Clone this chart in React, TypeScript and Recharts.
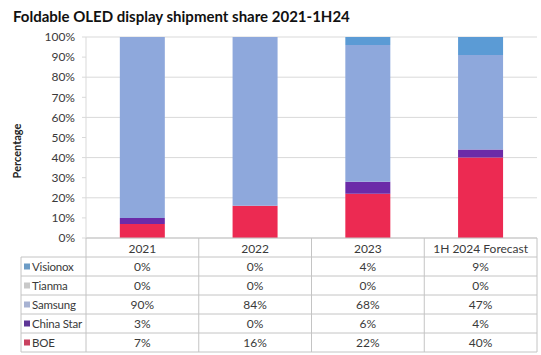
import React from 'react';
import { BarChart, Bar, XAxis, YAxis, CartesianGrid, Customized } from 'recharts';

const categories = ['2021', '2022', '2023', '1H 2024 Forecast'];
const boe = [7, 16, 22, 40];
const chinaStar = [3, 0, 6, 4];
const samsung = [90, 84, 68, 47];
const tianma = [0, 0, 0, 0];
const visionox = [0, 0, 4, 9];
const yTicks = [0, 10, 20, 30, 40, 50, 60, 70, 80, 90, 100];

const seriesNames = ['BOE', 'China Star', 'Samsung', 'Tianma', 'Visionox'];
const seriesValues = [boe, chinaStar, samsung, tianma, visionox];
const seriesColors = ['#EC2A52', '#6B2BA8', '#8EA8DC', '#BFBFBF', '#5B9BD5'];
const keyColors = ['#C9415F', '#5E3596', '#A7B2D2', '#C8C8C8', '#6C9CC6'];

const data = categories.map((c, i) => {
  const row: Record<string, string | number> = { category: c };
  seriesNames.forEach((n, s) => {
    row[n] = seriesValues[s][i];
  });
  return row;
});

const W = 541;
const H = 355;
const PLOT_LEFT = 86;
const MARGIN_RIGHT = 4;
const PLOT_TOP = 37;
const PLOT_BOTTOM = 238;
const HEADER_H = 19;
const ROW_H = 19;
const TABLE_LEFT = 21;
const BAND = (W - PLOT_LEFT - MARGIN_RIGHT) / categories.length;
const FONT = 'Lato, "Open Sans", sans-serif';
const TEXT = '#3a3a3a';
const BORDER = '#C4C4C4';

// table rows top to bottom (reverse of stacking order)
const tableOrder = [4, 3, 2, 1, 0];

const TableTick = (props: any) => {
  const { x, payload } = props;
  const cat = payload.value as string;
  const i = categories.indexOf(cat);
  const half = BAND / 2;
  const tableBottom = PLOT_BOTTOM + HEADER_H + ROW_H * tableOrder.length;
  return (
    <g>
      <line x1={x + half} x2={x + half} y1={PLOT_BOTTOM} y2={tableBottom} stroke={BORDER} />
      {i === 0 && <line x1={x - half} x2={x - half} y1={PLOT_BOTTOM} y2={tableBottom} stroke={BORDER} />}
      <text x={x} y={PLOT_BOTTOM + HEADER_H / 2 + 1} textAnchor="middle" dominantBaseline="central" fontSize={12} fill={TEXT} fontFamily={FONT}>
        {cat}
      </text>
      {tableOrder.map((s, r) => (
        <text
          key={s}
          x={x}
          y={PLOT_BOTTOM + HEADER_H + ROW_H * r + ROW_H / 2}
          textAnchor="middle"
          dominantBaseline="central"
          fontSize={12}
          fill={TEXT}
          fontFamily={FONT}
        >
          {seriesValues[s][i]}%
        </text>
      ))}
    </g>
  );
};

const TableFrame = () => {
  const top = PLOT_BOTTOM + HEADER_H;
  const bottom = top + ROW_H * tableOrder.length;
  return (
    <g>
      <line x1={TABLE_LEFT} x2={TABLE_LEFT} y1={top} y2={bottom} stroke={BORDER} />
      {tableOrder.map((_, r) => (
        <line key={'h' + r} x1={TABLE_LEFT} x2={W - MARGIN_RIGHT} y1={top + ROW_H * r} y2={top + ROW_H * r} stroke={BORDER} />
      ))}
      <line x1={TABLE_LEFT} x2={W - MARGIN_RIGHT} y1={bottom} y2={bottom} stroke={BORDER} />
      {tableOrder.map((s, r) => (
        <g key={'l' + s}>
          <rect x={TABLE_LEFT + 3} y={top + ROW_H * r + ROW_H / 2 - 3} width={6} height={6} fill={keyColors[s]} />
          <text
            x={TABLE_LEFT + 11}
            y={top + ROW_H * r + ROW_H / 2}
            dominantBaseline="central"
            fontSize={11.5}
            letterSpacing={-0.2}
            fill={TEXT}
            fontFamily={FONT}
          >
            {seriesNames[s]}
          </text>
        </g>
      ))}
      <text
        x={13}
        y={22}
        fontSize={15}
        fontWeight="bold"
        fill="#111"
        fontFamily={FONT}
      >
        Foldable OLED display shipment share 2021-1H24
      </text>
      <text
        x={0}
        y={0}
        transform={`translate(21, 151) rotate(-90)`}
        textAnchor="middle"
        fontSize={11}
        fontWeight="bold"
        fill="#222"
        fontFamily={FONT}
      >
        Percentage
      </text>
    </g>
  );
};

export default function App() {
  return (
    <div style={{ position: 'absolute', left: 0, top: 0, width: W, height: H, background: '#fff' }}>
      <BarChart
        width={W}
        height={H}
        data={data}
        margin={{ top: PLOT_TOP, right: MARGIN_RIGHT, bottom: 0, left: 0 }}
        barCategoryGap="30%"
      >
        <CartesianGrid vertical={false} stroke="#D9D9D9" />
        <XAxis
          dataKey="category"
          height={H - PLOT_BOTTOM}
          interval={0}
          tickLine={false}
          axisLine={{ stroke: BORDER }}
          tick={<TableTick />}
        />
        <YAxis
          width={PLOT_LEFT}
          domain={[0, 100]}
          ticks={yTicks}
          tickFormatter={(v: number) => `${v}%`}
          tickSize={4}
          tickMargin={7}
          tickLine={{ stroke: '#D9D9D9' }}
          axisLine={{ stroke: '#D9D9D9' }}
          tick={{ fontSize: 12, fill: TEXT, fontFamily: FONT }}
          allowDataOverflow
        />
        {seriesNames.map((n, s) => (
          <Bar key={n} dataKey={n} stackId="a" fill={seriesColors[s]} isAnimationActive={false} />
        ))}
        <Customized component={TableFrame} />
      </BarChart>
    </div>
  );
}
